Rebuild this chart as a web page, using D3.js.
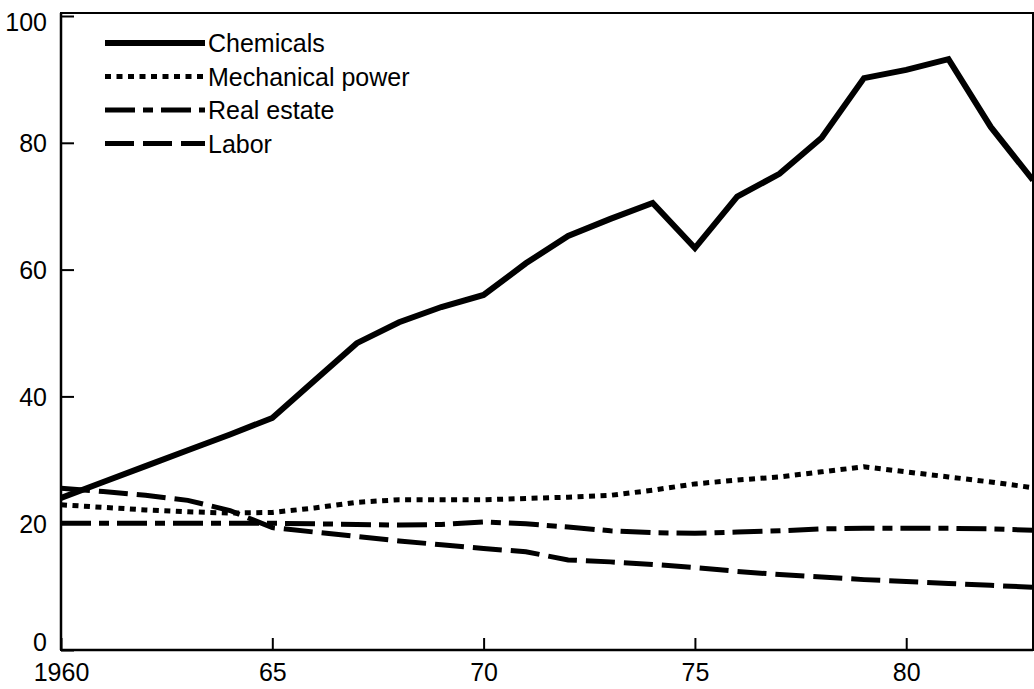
<!DOCTYPE html>
<html>
<head>
<meta charset="utf-8">
<script src="https://cdn.jsdelivr.net/npm/d3@7"></script>
<style>
  body { margin: 0; background: #fff; }
  text { font-family: "Liberation Sans", Arial, sans-serif; fill: #000; }
</style>
</head>
<body>
<div id="chart-container"></div>
<script>
// index (1960 = base years)
const years = d3.range(1960, 1984);
const chemicals = [24.0, 26.5, 29.0, 31.5, 34.0, 36.6, 42.5, 48.4, 51.7, 54.1, 56.0, 61.0,
    65.3, 68.0, 70.5, 63.4, 71.5, 75.1, 80.8, 90.2, 91.5, 93.2, 82.5, 74.1];
const mechanicalPower = [22.9, 22.5, 22.1, 21.8, 21.6, 21.7, 22.4, 23.3, 23.7, 23.7, 23.7, 23.9,
    24.1, 24.4, 25.2, 26.2, 26.8, 27.3, 28.1, 28.9, 28.1, 27.3, 26.5, 25.6];
const realEstate = [20.0, 20.0, 20.0, 20.0, 20.0, 20.0, 19.9, 19.8, 19.7, 19.8, 20.2, 19.9,
    19.4, 18.8, 18.5, 18.4, 18.6, 18.8, 19.1, 19.2, 19.2, 19.2, 19.1, 18.9];
const labor = [25.5, 25.0, 24.4, 23.6, 22.0, 19.3, 18.6, 17.9, 17.2, 16.6, 16.0, 15.5,
    14.2, 13.9, 13.5, 13.0, 12.4, 11.9, 11.5, 11.1, 10.8, 10.5, 10.2, 9.9];
const seriesNames = ["Chemicals", "Mechanical power", "Real estate", "Labor"];
const xTicks = [1960, 1965, 1970, 1975, 1980];
const yTicks = [0, 20, 40, 60, 80, 100];

const series = [
    { name: seriesNames[0], values: chemicals, width: 6, dash: null },
    { name: seriesNames[1], values: mechanicalPower, width: 5, dash: "6,5.5" },
    { name: seriesNames[2], values: realEstate, width: 5, dash: "30,8,10,8" },
    { name: seriesNames[3], values: labor, width: 5, dash: "29,9" }
];

const width = 1034, height = 689;
const plot = { left: 61, right: 1033, top: 16, bottom: 650 };

const svg = d3.select("#chart-container")
    .append("svg")
    .attr("width", width)
    .attr("height", height);

const x = d3.scaleLinear().domain([1960, 1983]).range([plot.left, plot.right]);
const y = d3.scaleLinear().domain([0, 100]).range([plot.bottom, plot.top]);

svg.append("clipPath").attr("id", "plot")
    .append("rect")
    .attr("x", plot.left).attr("y", plot.top - 4)
    .attr("width", plot.right - plot.left).attr("height", plot.bottom - plot.top + 4);

const line = d3.line()
    .x((d, i) => x(years[i]))
    .y(d => y(d));

svg.append("g").attr("clip-path", "url(#plot)")
    .selectAll("path")
    .data(series)
    .enter()
    .append("path")
    .attr("d", d => line(d.values))
    .attr("fill", "none")
    .attr("stroke", "#000")
    .attr("stroke-width", d => d.width)
    .attr("stroke-dasharray", d => d.dash)
    .attr("stroke-linejoin", "miter");

// frame
svg.append("rect")
    .attr("x", plot.left).attr("y", plot.top - 3)
    .attr("width", plot.right - plot.left).attr("height", plot.bottom - plot.top + 3)
    .attr("fill", "none")
    .attr("stroke", "#000")
    .attr("stroke-width", 2);

// y axis, ticks pointing inward
const yAxis = svg.append("g")
    .attr("transform", `translate(${plot.left},0)`)
    .call(d3.axisLeft(y).tickValues(yTicks).tickSize(-13).tickPadding(14));
yAxis.select(".domain").remove();
yAxis.selectAll("line").attr("stroke-width", 2);
yAxis.selectAll("text")
    .style("font-size", "25px")
    .attr("dy", d => d === 100 ? "0.59em" : d === 0 ? "0em" : "0.36em");

// x axis, ticks pointing up
const xAxis = svg.append("g")
    .attr("transform", `translate(0,${plot.bottom})`)
    .call(d3.axisBottom(x).tickValues(xTicks).tickSize(-12).tickPadding(13)
        .tickFormat(d => d === 1960 ? "1960" : String(d).slice(2)));
xAxis.select(".domain").remove();
xAxis.selectAll("line").attr("stroke-width", 2);
xAxis.selectAll("text").style("font-size", "25px");

svg.append("line")
    .attr("x1", plot.left).attr("x2", plot.right)
    .attr("y1", plot.bottom).attr("y2", plot.bottom)
    .attr("stroke", "#000").attr("stroke-width", 2.5);
svg.append("line")
    .attr("x1", plot.left).attr("x2", plot.left)
    .attr("y1", plot.top - 3).attr("y2", plot.bottom)
    .attr("stroke", "#000").attr("stroke-width", 2.5);

// legend
const legend = svg.selectAll(".legend")
    .data(series)
    .enter()
    .append("g")
    .attr("class", "legend")
    .attr("transform", (d, i) => `translate(105, ${43 + i * 33.5})`);

legend.append("line")
    .attr("x1", 0).attr("x2", 100)
    .attr("stroke", "#000")
    .attr("stroke-width", d => d.width)
    .attr("stroke-dasharray", d => d.dash);

legend.append("text")
    .attr("x", 103)
    .attr("dy", "0.36em")
    .style("font-size", "25px")
    .text(d => d.name);
</script>
</body>
</html>
